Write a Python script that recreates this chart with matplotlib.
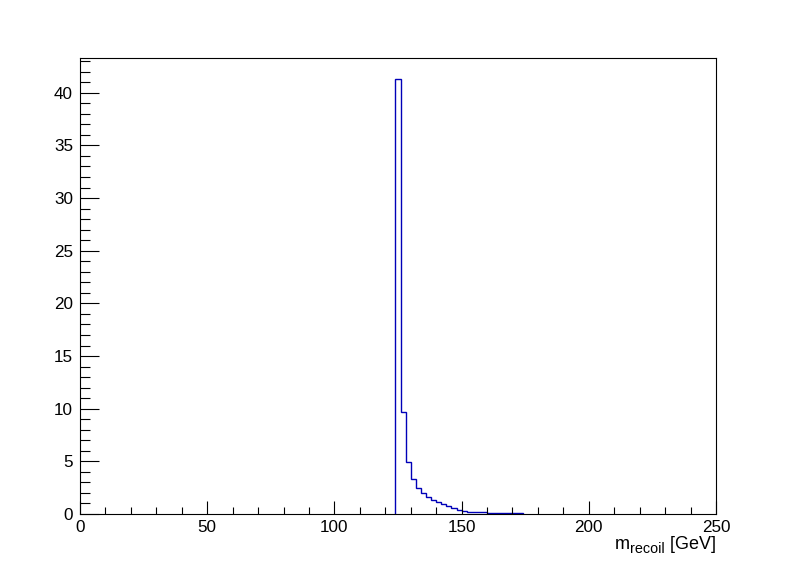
import numpy as np
import matplotlib
matplotlib.use('Agg')
import matplotlib.pyplot as plt
from matplotlib.ticker import MultipleLocator

plt.rcParams['font.family'] = ['Liberation Sans', 'DejaVu Sans']

# istogramma della massa di rinculo, bin da 2 GeV (solo la zona non vuota)
bordi_bin = [124, 126, 128, 130, 132, 134, 136, 138, 140, 142, 144, 146, 148,
             150, 152, 154, 156, 158, 160, 162, 164, 166, 168, 170, 172, 174]
conteggi = [41.3, 9.73, 4.93, 3.29, 2.46, 1.96, 1.58, 1.33, 1.11, 0.92, 0.73,
            0.54, 0.38, 0.25, 0.16, 0.16, 0.16, 0.16, 0.07, 0.07, 0.07, 0.07,
            0.07, 0.07, 0.07]

fig = plt.figure(figsize=(7.96, 5.72), dpi=100)
ax = fig.add_axes([80/796, 1 - 514/572, 636/796, 456/572])

ax.stairs(conteggi, bordi_bin, baseline=0, color='#0000b8', linewidth=1.0)

ax.set_xlim(0, 250)
ax.set_ylim(0, 43.3)

ax.xaxis.set_major_locator(MultipleLocator(50))
ax.xaxis.set_minor_locator(MultipleLocator(10))
ax.yaxis.set_major_locator(MultipleLocator(5))
ax.yaxis.set_minor_locator(MultipleLocator(1))

ax.tick_params(axis='x', which='major', direction='in', length=9.4, width=0.8,
               labelsize=12.3, pad=4, top=False)
ax.tick_params(axis='x', which='minor', direction='in', length=5, width=0.8, top=False)
ax.tick_params(axis='y', which='major', direction='in', length=13.7, width=0.8,
               labelsize=12.3, pad=5, right=False)
ax.tick_params(axis='y', which='minor', direction='in', length=7, width=0.8, right=False)

for s in ax.spines.values():
    s.set_linewidth(0.8)
    s.set_zorder(3)

# titolo asse x in stile ROOT: pezzi messi uno accanto all'altro da destra
W, H = 796, 572
renderer = fig.canvas.get_renderer()
pezzi = [(' [GeV]', 13, 549), ('recoil', 10.4, 553), ('m', 13, 549)]
x_dx = 716
for testo, dim, y_base in pezzi:
    t = fig.text(x_dx/W, 1 - y_base/H, testo, ha='right', va='baseline', fontsize=dim)
    bb = t.get_window_extent(renderer)
    x_dx = bb.x0 - 0.5

fig.savefig('out.png', dpi=100)
